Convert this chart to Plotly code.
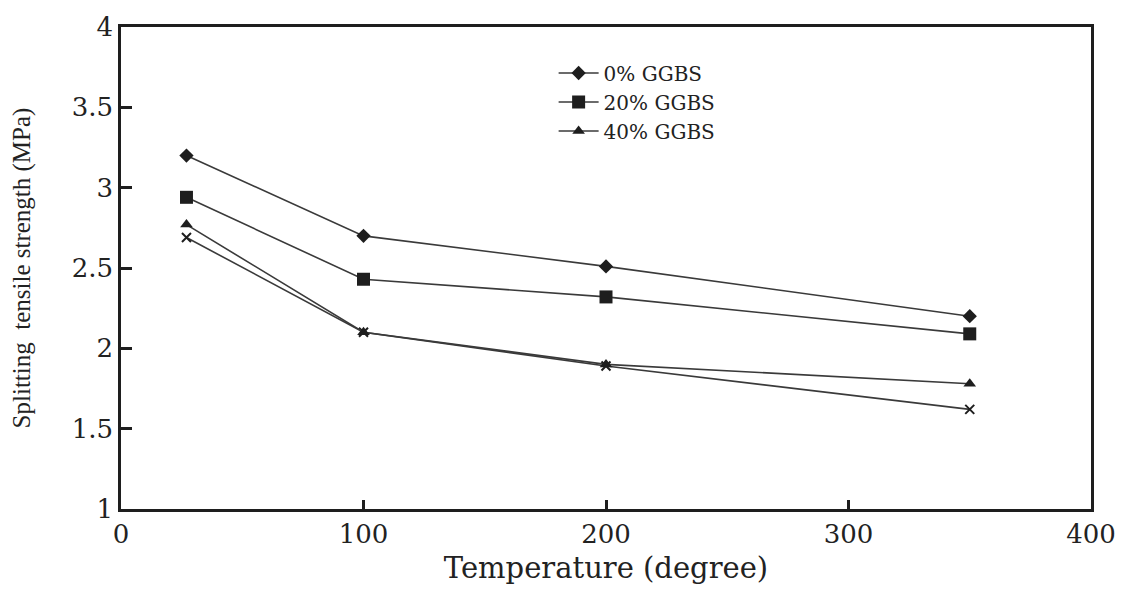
import plotly.graph_objects as go

# Exposure temperatures (°C)
temperature = [27, 100, 200, 350]

# Splitting tensile strength (MPa) per GGBS replacement level
ggbs_0 = [3.20, 2.70, 2.51, 2.20]
ggbs_20 = [2.94, 2.43, 2.32, 2.09]
ggbs_40 = [2.77, 2.10, 1.90, 1.78]
extra_series = [2.69, 2.10, 1.89, 1.62]

x_ticks = [0, 100, 200, 300, 400]
y_ticks = [1, 1.5, 2, 2.5, 3, 3.5, 4]

LINE = "#3a3a3a"
INK = "#1e1e1e"
SERIF = "Liberation Serif, Times New Roman, serif"
WIDE_SERIF = "DejaVu Serif, serif"

fig = go.Figure()

fig.add_trace(go.Scatter(
    x=temperature, y=extra_series, mode="lines+markers", showlegend=False,
    line=dict(color=LINE, width=1.6),
    marker=dict(symbol="x-thin", size=9, color=INK, line=dict(color=INK, width=2)),
))
fig.add_trace(go.Scatter(
    x=temperature, y=ggbs_40, mode="lines+markers", name="40% GGBS",
    line=dict(color=LINE, width=1.6),
    marker=dict(symbol="triangle-up", size=11, color=INK),
))
fig.add_trace(go.Scatter(
    x=temperature, y=ggbs_20, mode="lines+markers", name="20% GGBS",
    line=dict(color=LINE, width=1.6),
    marker=dict(symbol="square", size=13, color=INK),
))
fig.add_trace(go.Scatter(
    x=temperature, y=ggbs_0, mode="lines+markers", name="0% GGBS",
    line=dict(color=LINE, width=1.6),
    marker=dict(symbol="diamond", size=11, color=INK),
))

axis_common = dict(
    showline=True, linecolor=INK, linewidth=2.5, mirror=True,
    ticks="inside", tickcolor=INK, tickwidth=2.5,
    showgrid=False, zeroline=False,
    tickfont=dict(family=WIDE_SERIF, size=26, color="#222"),
)

fig.update_xaxes(
    range=[0, 400], tickvals=x_ticks, ticklen=9,
    title=dict(text="Temperature (degree)", standoff=10,
               font=dict(family=WIDE_SERIF, size=29, color="#222")),
    **axis_common,
)
fig.update_yaxes(
    range=[1, 4], tickvals=y_ticks, ticklen=11,
    title=dict(text="Splitting  tensile strength (MPa)", standoff=34,
               font=dict(family=SERIF, size=25, color="#222")),
    **axis_common,
)

fig.update_layout(
    width=1129, height=591,
    margin=dict(l=121, r=38, t=17, b=79),
    paper_bgcolor="white", plot_bgcolor="white",
    legend=dict(
        x=0.446, y=0.945, xanchor="left", yanchor="top",
        traceorder="reversed",
        font=dict(family=WIDE_SERIF, size=20, color="#222"),
        bgcolor="rgba(0,0,0,0)", itemwidth=40, tracegroupgap=0,
    ),
)

fig.write_html("out.html")
